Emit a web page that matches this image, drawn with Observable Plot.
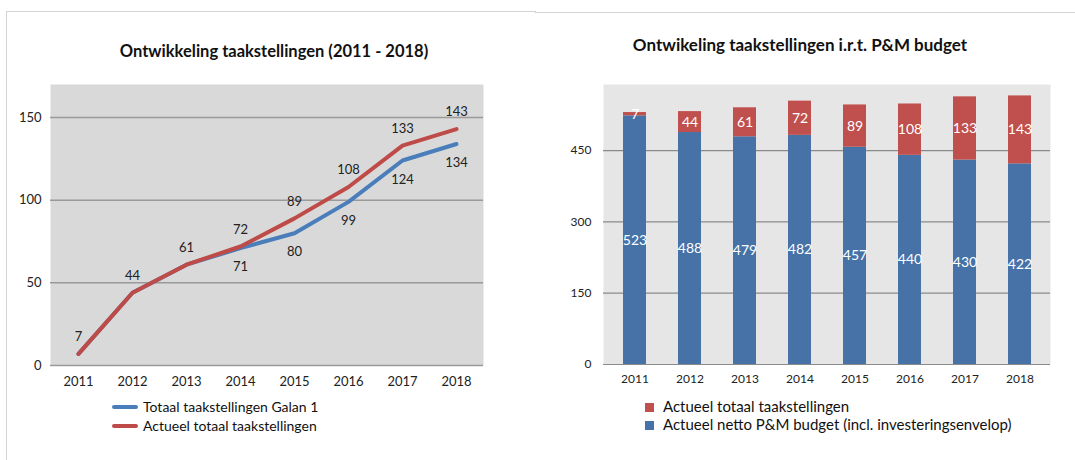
<!DOCTYPE html>
<html>
<head>
<meta charset="utf-8">
<script src="https://cdn.jsdelivr.net/npm/d3@7"></script>
<script src="https://cdn.jsdelivr.net/npm/@observablehq/plot@0.6"></script>
<style>
  html, body { margin: 0; padding: 0; background: #fff; }
  #root { position: relative; width: 1075px; height: 460px; overflow: hidden; font-family: Lato, "Open Sans", sans-serif; color: #111; }
  .abs { position: absolute; }
  .title { font-weight: bold; white-space: nowrap; transform: translateX(-50%); }
  .leg { font-size: 14px; white-space: nowrap; color: #111; }
  .border { background: #d4d4d4; }
</style>
</head>
<body>
<div id="root">
  <div class="abs border" style="left:6px;top:11px;width:530px;height:1px"></div>
  <div class="abs border" style="left:6px;top:11px;width:1px;height:449px"></div>
  <div class="abs border" style="left:535px;top:12px;width:540px;height:1px"></div>

  <div class="abs title" style="left:274px;top:41px;font-size:16.5px">Ontwikkeling taakstellingen (2011 - 2018)</div>
  <div class="abs title" style="left:800px;top:34px;font-size:17px">Ontwikeling taakstellingen i.r.t. P&amp;M budget</div>

  <div id="left" class="abs" style="left:0;top:70px"></div>
  <div id="right" class="abs" style="left:540px;top:70px"></div>

  <div class="abs" style="left:112px;top:405px;width:26px;height:4px;background:#4a7ebb;border-radius:2px"></div>
  <div class="abs leg" style="left:143px;top:398px">Totaal taakstellingen Galan 1</div>
  <div class="abs" style="left:112px;top:424px;width:26px;height:4px;background:#be4b48;border-radius:2px"></div>
  <div class="abs leg" style="left:143px;top:417px">Actueel totaal taakstellingen</div>

  <div class="abs" style="left:645px;top:403px;width:9px;height:9px;background:#c0504d"></div>
  <div class="abs leg" style="left:663px;top:397px;font-size:15px">Actueel totaal taakstellingen</div>
  <div class="abs" style="left:645px;top:421px;width:9px;height:9px;background:#4672a8"></div>
  <div class="abs leg" style="left:663px;top:415px;font-size:15px">Actueel netto P&amp;M budget (incl. investeringsenvelop)</div>
</div>
<script>
const years = ["2011","2012","2013","2014","2015","2016","2017","2018"];
const galan = [7, 44, 61, 71, 80, 99, 124, 134];
const actueel = [7, 44, 61, 72, 89, 108, 133, 143];
const budget = [523, 488, 479, 482, 457, 440, 430, 422];
const leftTicks = [0, 50, 100, 150];
const rightTicks = [0, 150, 300, 450];

const lineData = [];
years.forEach((y, i) => lineData.push({year: y, value: galan[i], series: "galan", differs: galan[i] !== actueel[i]}));
years.forEach((y, i) => lineData.push({year: y, value: actueel[i], series: "actueel", differs: galan[i] !== actueel[i]}));

const font = "Lato, 'Open Sans', sans-serif";

const left = Plot.plot({
  width: 540, height: 330,
  marginLeft: 50, marginRight: 57, marginTop: 14, marginBottom: 35,
  style: {fontFamily: font, fontSize: "13px", color: "#222", background: "transparent"},
  x: {type: "band", domain: years, padding: 0, label: null, tickSize: 0, tickPadding: 11},
  y: {domain: [0, 170], ticks: leftTicks, label: null, tickSize: 0, tickPadding: 9},
  marks: [
    Plot.frame({fill: "#d9d9d9", stroke: null}),
    Plot.ruleY(leftTicks, {stroke: "#9a9a9a", strokeWidth: 1.5}),
    Plot.line(lineData.filter(d => d.series === "galan"), {x: "year", y: "value", stroke: "#4a7ebb", strokeWidth: 4}),
    Plot.line(lineData.filter(d => d.series === "actueel"), {x: "year", y: "value", stroke: "#be4b48", strokeWidth: 4}),
    Plot.text(lineData.filter(d => d.series === "actueel"), {x: "year", y: "value", text: "value", dy: -17, fill: "#222", fontSize: 13}),
    Plot.text(lineData.filter(d => d.series === "galan" && d.differs), {x: "year", y: "value", text: "value", dy: 19, fill: "#222", fontSize: 13})
  ]
});
document.getElementById("left").appendChild(left);

const barData = [];
years.forEach((y, i) => barData.push({year: y, value: budget[i], series: "budget"}));
years.forEach((y, i) => barData.push({year: y, value: actueel[i], series: "taak"}));

const right = Plot.plot({
  width: 535, height: 330,
  marginLeft: 63, marginRight: 25, marginTop: 14, marginBottom: 36,
  style: {fontFamily: font, fontSize: "12px", color: "#222", background: "transparent"},
  x: {type: "band", domain: years, paddingInner: 0.59, paddingOuter: 0.295, align: 0.5, label: null, tickSize: 0, tickPadding: 10},
  y: {domain: [0, 589], ticks: rightTicks, label: null, tickSize: 0, tickPadding: 12},
  color: {domain: ["budget", "taak"], range: ["#4672a8", "#c0504d"]},
  marks: [
    Plot.frame({fill: "#e6e6e6", stroke: null}),
    Plot.ruleY(rightTicks, {stroke: "#8a8a8a", strokeWidth: 1.2}),
    Plot.ruleX([0], {frameAnchor: "left", stroke: "#8a8a8a", strokeWidth: 1.2}),
    Plot.barY(barData, {x: "year", y: "value", fill: "series"}),
    Plot.text(barData, Plot.stackY({x: "year", y: "value", z: "series", text: "value", fill: "white", fontSize: 14}))
  ]
});
document.getElementById("right").appendChild(right);
</script>
</body>
</html>
